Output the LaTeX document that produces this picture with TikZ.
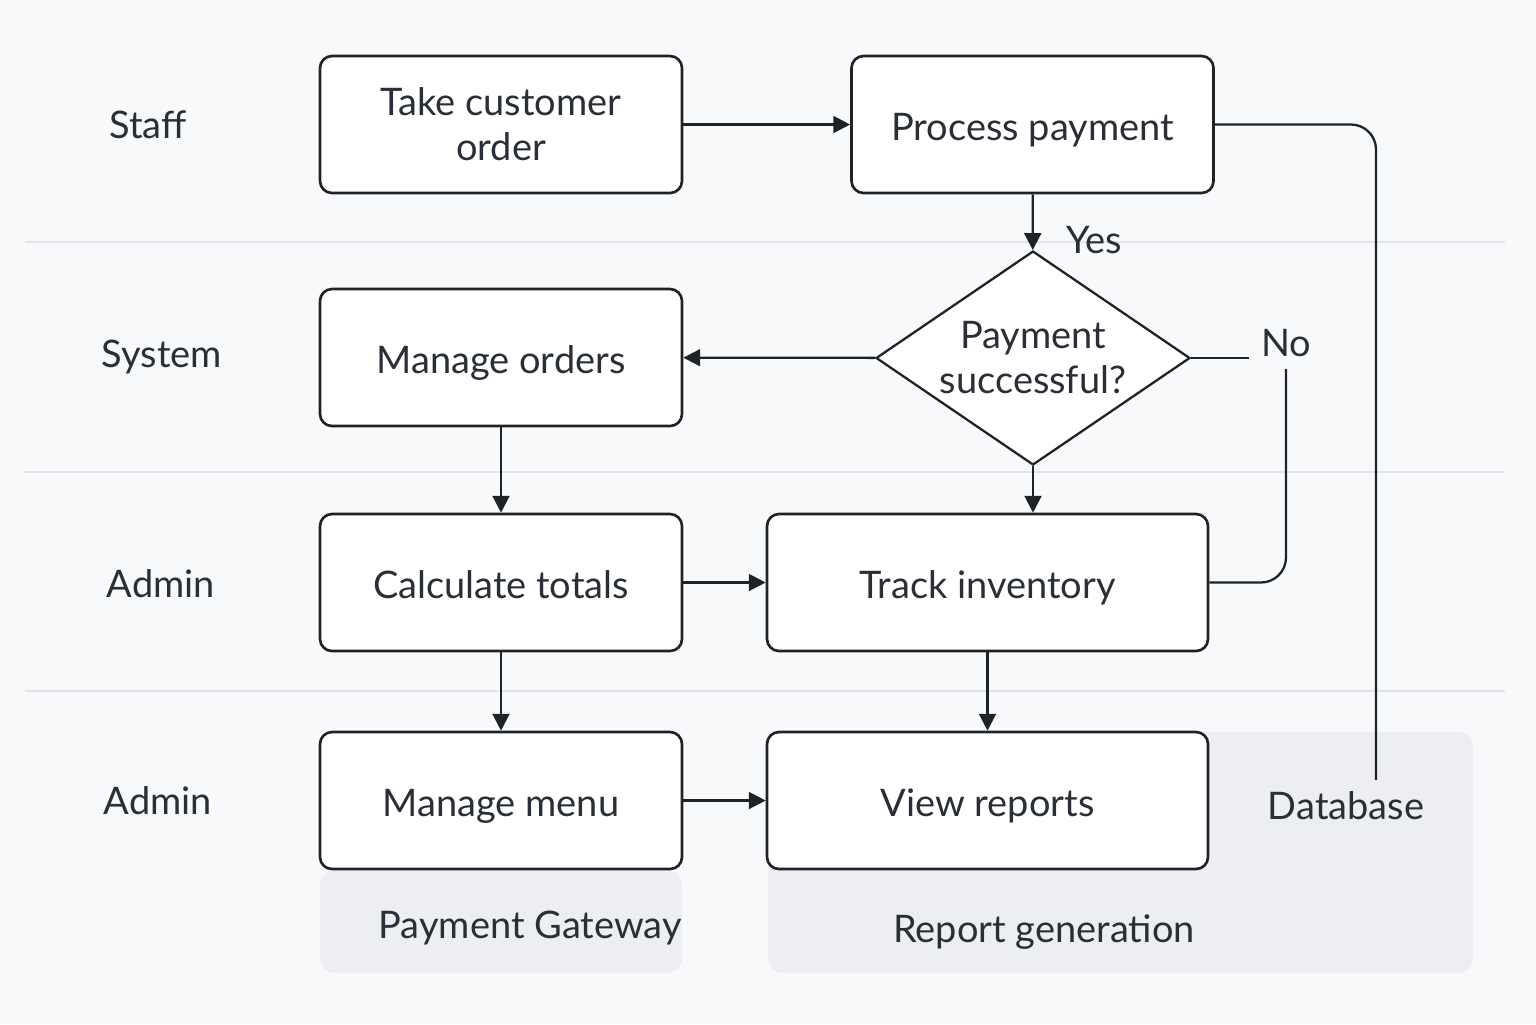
\documentclass[tikz,border=0pt]{standalone}
\usepackage{fontspec}
\setmainfont{Lato}
\usepackage{xcolor}
\usepackage{tikz}
\usetikzlibrary{shapes.geometric,arrows.meta}
\definecolor{bg}{HTML}{F8F9FA}
\definecolor{ink}{HTML}{1F2328}
\definecolor{text}{HTML}{2A2F37}
\definecolor{sep}{HTML}{E1E3E7}
\definecolor{panel}{HTML}{EDEEF2}
\tikzset{
  box/.style={draw=ink, fill=white, line width=0.75pt, rounded corners=0.12cm,
    minimum width=3.62cm, minimum height=1.37cm, align=center, text=text,
    text height=9pt, text depth=0pt, font=\fontsize{10.8}{12.8}\selectfont},
  wide/.style={box, minimum width=4.41cm},
  dia/.style={draw=ink, fill=white, line width=0.65pt, diamond, shape aspect=1.47, inner sep=0pt,
    minimum width=3.14cm, minimum height=2.14cm, align=center, text=text, font=\fontsize{10.8}{12.8}\selectfont},
  line/.style={draw=ink, line width=0.65pt},
  arr/.style={line, -{Triangle[length=4.8pt,width=4.8pt]}},
  lane/.style={draw=sep, line width=0.6pt},
  lab/.style={text=text, font=\fontsize{10.8}{12.8}\selectfont},
  panelbox/.style={fill=panel, rounded corners=0.15cm}
}
\begin{document}
\begin{tikzpicture}
  \fill[bg] (0,0) rectangle (15.36,-10.24);
  \useasboundingbox (0,0) rectangle (15.36,-10.24);
  \draw[lane] (0.25,-2.42) -- (15.05,-2.42);
  \draw[lane] (0.25,-4.72) -- (15.05,-4.72);
  \draw[lane] (0.25,-6.91) -- (15.05,-6.91);
  \fill[panelbox] (3.20,-8.70) rectangle (6.82,-9.73);
  \fill[panelbox] (7.68,-7.32) rectangle (14.73,-9.73);
  \node[lab] (staff) at (1.48,-1.25) {Staff};
  \node[lab] (system) at (1.62,-3.57) {System};
  \node[lab] (admin) at (1.61,-5.84) {Admin};
  \node[lab] (admintwo) at (1.58,-8.01) {Admin};
  \node[box, text height=, text depth=] (take) at (5.01,-1.245) {Take customer\\order};
  \node[box] (pay) at (10.325,-1.245) {Process payment};
  \node[dia] (ok) at (10.33,-3.58) {Payment\\successful?};
  \node[box] (orders) at (5.01,-3.575) {Manage orders};
  \node[box] (calc) at (5.01,-5.825) {Calculate totals};
  \node[wide] (track) at (9.875,-5.825) {Track inventory};
  \node[box] (menu) at (5.01,-8.005) {Manage menu};
  \node[wide] (view) at (9.875,-8.005) {View reports};
  \node[lab] (gateway) at (5.30,-9.28) {Payment Gateway};
  \node[lab] (report) at (10.44,-9.32) {Report generation};
  \node[lab] (db) at (13.46,-8.06) {Database};
  \node[lab] (yes) at (10.94,-2.40) {Yes};
  \node[lab] (no) at (12.86,-3.43) {No};
  \coordinate (dbend) at (13.76,-7.80);
  \draw[arr] (take) -- (pay);
  \draw[arr] (pay) -- (ok);
  \draw[arr] (ok) -- (orders);
  \draw[line] (ok.east) -- (ok.east -| no.west);
  \draw[line, rounded corners=0.25cm] (no.south) |- (track.east);
  \draw[line, rounded corners=0.25cm] (pay.east) -| (dbend);
  \draw[arr] (ok.south) -- (ok.south |- track.north);
  \draw[arr] (orders) -- (calc);
  \draw[arr] (calc) -- (track);
  \draw[arr] (calc) -- (menu);
  \draw[arr] (track) -- (view);
  \draw[arr] (menu) -- (view);
\end{tikzpicture}
\end{document}
